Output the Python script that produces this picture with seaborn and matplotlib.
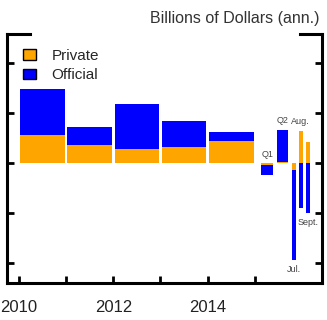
import matplotlib
matplotlib.use('Agg')
import matplotlib.pyplot as plt
from matplotlib.patches import Patch, Rectangle
import numpy as np
import pandas as pd
import seaborn as sns

# values, billions of dollars (annual rate)
periods = ['2010', '2011', '2012', '2013', '2014', 'Q1', 'Q2', 'Jul.', 'Aug.', 'Sept.']
private = [112, 72, 56, 64, 88, -8, 6, -28, 130, 84]
official = [184, 72, 180, 105, 36, -40, 127, -359, -180, -200]
tick_years = [2010, 2011, 2012, 2013, 2014, 2015]
tick_labels = ['2010', '', '2012', '', '2014', '']
series_names = ['Private', 'Official']
unit_label = 'Billions of Dollars (ann.)'

# layout: where each bar sits on the year axis and how wide it is
bar_x = [2010.5, 2011.5, 2012.5, 2013.5, 2014.5, 2015.26, 2015.585, 2015.82, 2015.97, 2016.12]
bar_w = [0.94] * 5 + [0.245] * 2 + [0.085] * 3
bar_group = ['year'] * 5 + ['quarter'] * 2 + ['month'] * 3
label_side = [0, 0, 0, 0, 0, 1, 1, -1, 1, -1]

c_private = '#FFA500'
c_official = '#0000FF'

df = pd.DataFrame({'period': periods, 'private': private, 'official': official,
                   'x': bar_x, 'w': bar_w, 'group': bar_group})
# official sits on top of private when both go the same way, otherwise it starts at zero
same = np.sign(df['private']) == np.sign(df['official'])
df['blue'] = np.where(same, df['private'] + df['official'], df['official'])

sns.set_style('ticks')
plt.rcParams['font.family'] = ['Liberation Sans', 'DejaVu Sans']

fig = plt.figure(figsize=(3.27, 3.20), dpi=100)
ax = fig.add_axes([7 / 327, 1 - 283 / 320, 315 / 327, 249 / 320])

for g in ['year', 'quarter', 'month']:
    d = df[df['group'] == g]
    step = np.min(np.diff(np.sort(d['x'].values)))
    rel = d['w'].iloc[0] / step
    sns.barplot(data=d, x='x', y='blue', native_scale=True, orient='x', width=rel,
                color=c_official, saturation=1, errorbar=None, linewidth=0, ax=ax)
    sns.barplot(data=d, x='x', y='private', native_scale=True, orient='x', width=rel,
                color=c_private, saturation=1, errorbar=None, linewidth=0, ax=ax)

# small period labels next to the 2015 bars
for i, row in df.iterrows():
    side = label_side[i]
    if side == 0:
        continue
    if side > 0:
        yv = max(0, row['private'], row['blue'])
    else:
        yv = min(0, row['private'], row['blue'])
    ax.annotate(row['period'], (row['x'], yv), xytext=(0, 6.5 * side),
                textcoords='offset points', ha='center', va='center',
                fontsize=6.5, color='#444444')

ax.set_xlim(2009.75, 2016.42)
ax.set_ylim(-479, 517)
ax.set_yticks([-400, -200, 0, 200, 400])
ax.set_xticks(tick_years, tick_labels)
ax.set_xlabel('')
ax.set_ylabel('')
ax.tick_params(axis='y', direction='in', left=True, right=True, labelleft=False,
               length=5, width=2, color='black')
ax.tick_params(axis='x', direction='in', bottom=True, top=False, length=5, width=2, pad=12,
               labelsize=12, labelcolor='#222222', color='black')

# frame drawn by hand: left, right, bottom and two short pieces on top
for s in ax.spines.values():
    s.set_visible(False)
ax.set_frame_on(False)
frame = [([0, 0], [0, 1]), ([1, 1], [0, 1]), ([0, 1], [0, 0]),
         ([0, 0.073], [1, 1]), ([0.93, 1], [1, 1])]
for fx, fy in frame:
    ax.plot(fx, fy, transform=ax.transAxes, color='black', lw=2.2,
            clip_on=False, solid_capstyle='projecting')

# keep the open stretch of the top edge clear
top_y = 1 - 34 / 320
fig.add_artist(Rectangle(((7 + 0.073 * 315 + 3) / 327, top_y - 5 / 320),
                         (0.857 * 315 - 6) / 327, 10 / 320,
                         transform=fig.transFigure, facecolor='white',
                         edgecolor='none', zorder=100))

handles = [Patch(facecolor=c_private, edgecolor='black', label=series_names[0]),
           Patch(facecolor=c_official, edgecolor='black', label=series_names[1])]
ax.legend(handles=handles, loc='upper left', bbox_to_anchor=(0.051, 0.94),
          frameon=False, fontsize=11, handlelength=0.85, handleheight=0.65,
          handletextpad=1.0, labelspacing=0.35, borderpad=0, borderaxespad=0)

fig.text(320 / 327, 1 - 18 / 320, unit_label, ha='right', va='center',
         fontsize=11.5, color='#333333')

fig.savefig('out.png', dpi=100)
